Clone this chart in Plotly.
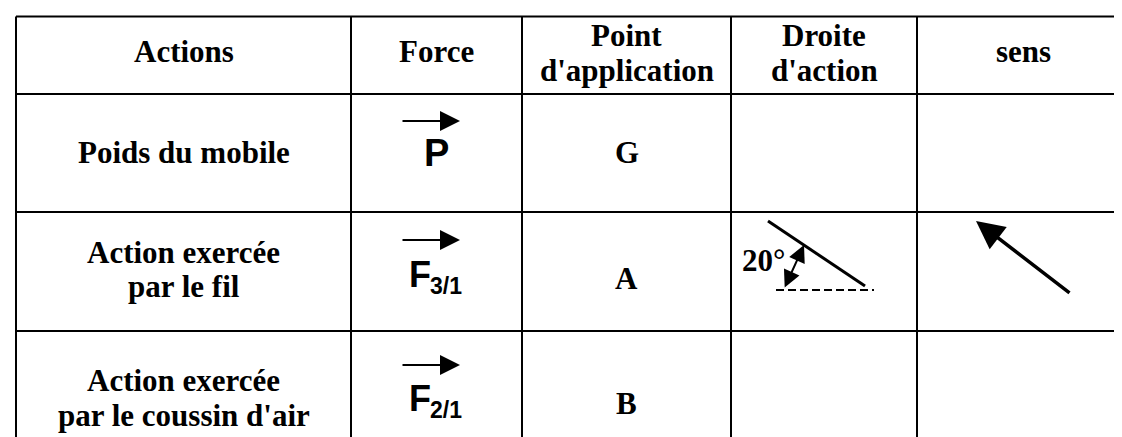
import plotly.graph_objects as go

# table content
headers = [["Actions"], ["Force"], ["Point", "d'application"], ["Droite", "d'action"], ["sens"]]
actions = [["Poids du mobile"], ["Action exercée", "par le fil"], ["Action exercée", "par le coussin d'air"]]
forces = ["P", "F", "F"]
force_subs = ["", "3/1", "2/1"]
points = ["G", "A", "B"]
angle_label = "20°"

# layout of the grid (pixels, y downwards)
W, H = 1122, 437
col_edges = [8, 343, 514, 723, 909, 1122]
row_edges = [8.5, 86, 204, 323]
header_y = {1: [43], 2: [27, 62]}
action_y = [[144], [244, 278], [372, 407]]
point_y = [144, 270, 395]
force_y = [145, 266, 390]
vec_y = [113, 232, 357]
vec_x = (393, 452)

SERIF = "Liberation Serif"
SANS = "Liberation Sans"
FS = 31

fig = go.Figure()
fig.add_trace(go.Scatter(x=[0, W], y=[0, H], mode="markers", marker=dict(opacity=0),
                         hoverinfo="skip", showlegend=False))


def col_center(i):
    return (col_edges[i] + col_edges[i + 1]) / 2


def txt(x, y, s, family=SERIF, size=FS, anchor="center"):
    fig.add_annotation(x=x, y=y, xref="x", yref="y", text=s, showarrow=False,
                       xanchor=anchor, yanchor="middle",
                       font=dict(family=family, size=size, color="black"))


def arrow(tail, tip, width, size, both=False):
    fig.add_annotation(x=tip[0], y=tip[1], ax=tail[0], ay=tail[1], xref="x", yref="y",
                       axref="x", ayref="y", text="", showarrow=True,
                       arrowhead=2, arrowsize=size, arrowwidth=width, arrowcolor="black",
                       startarrowhead=2, startarrowsize=size,
                       arrowside="end+start" if both else "end", standoff=0, startstandoff=0)


# grid lines
for y in row_edges:
    fig.add_shape(type="line", x0=col_edges[0], x1=W, y0=y, y1=y, xref="x", yref="y",
                  line=dict(color="black", width=2))
for x in col_edges[:-1]:
    fig.add_shape(type="line", x0=x, x1=x, y0=row_edges[0], y1=H, xref="x", yref="y",
                  line=dict(color="black", width=2))

# header
for i, lines in enumerate(headers):
    for s, y in zip(lines, header_y[len(lines)]):
        txt(col_center(i), y, "<b>" + s + "</b>")

# body rows
for r in range(3):
    for s, y in zip(actions[r], action_y[r]):
        txt(col_center(0), y, "<b>" + s + "</b>")
    if force_subs[r]:
        txt(399, force_y[r], "<b>" + forces[r] + "</b>", family=SANS, size=36, anchor="left")
        txt(420, force_y[r] + 12, "<b>" + force_subs[r] + "</b>", family=SANS, size=23, anchor="left")
    else:
        txt(428, force_y[r], "<b>" + forces[r] + "</b>", family=SANS, size=38)
    arrow((vec_x[0], vec_y[r]), (vec_x[1], vec_y[r]), 2, 2)
    txt(col_center(2), point_y[r], "<b>" + points[r] + "</b>")

# droite d'action sketch for the thread
fig.add_shape(type="line", x0=760, y0=213, x1=857, y1=278, xref="x", yref="y",
              line=dict(color="black", width=3))
fig.add_shape(type="line", x0=768, y0=282, x1=866, y1=282, xref="x", yref="y",
              line=dict(color="black", width=2, dash="8px,4px"))
arrow((776, 281), (796, 237), 2, 1.7, both=True)
txt(755, 252, "<b>" + angle_label + "</b>")

# sens
arrow((1063, 286), (968, 213), 3.5, 1.6)

fig.update_xaxes(range=[0, W], visible=False, fixedrange=True)
fig.update_yaxes(range=[H, 0], visible=False, fixedrange=True)
fig.update_layout(width=W, height=H, margin=dict(l=0, r=0, t=0, b=0),
                  plot_bgcolor="white", paper_bgcolor="white", showlegend=False)

fig.write_html("out.html")
